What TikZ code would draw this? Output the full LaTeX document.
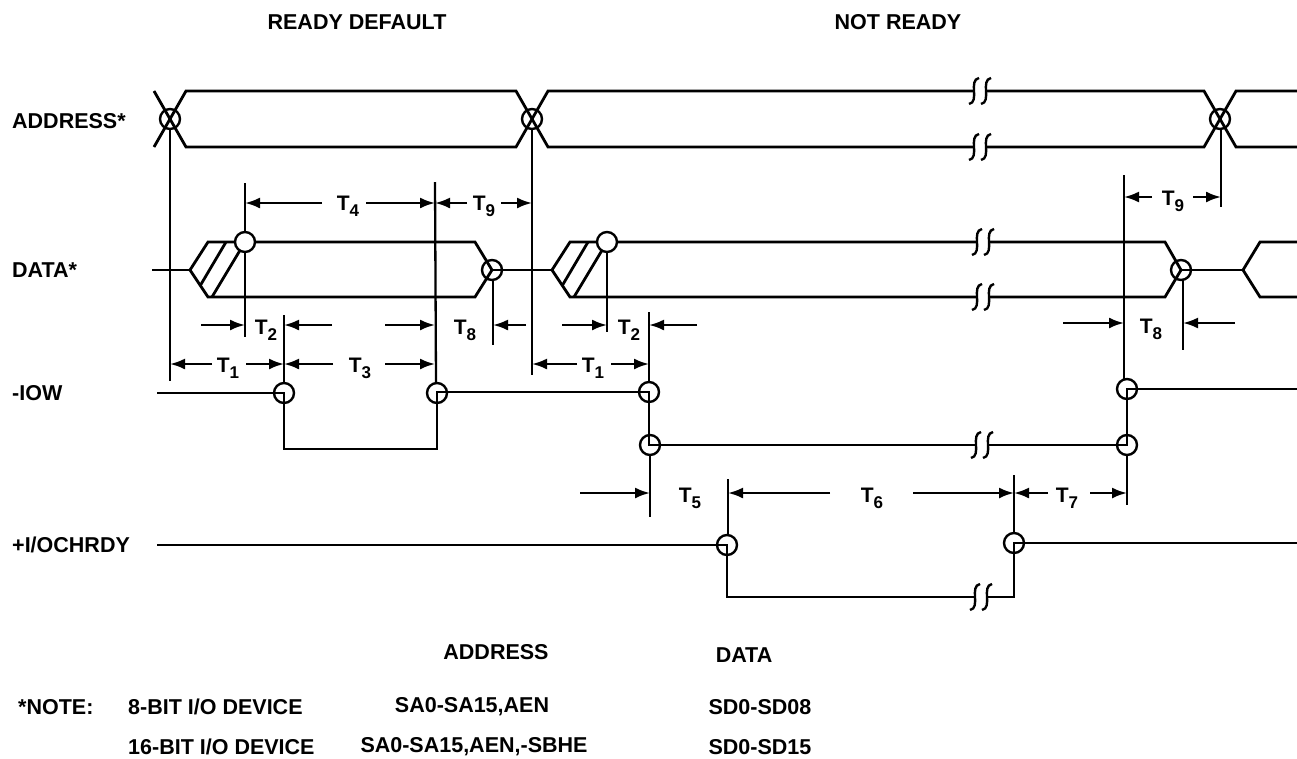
\documentclass[tikz,border=0pt]{standalone}
\usepackage{fontspec}
\setmainfont{Liberation Sans}
\usetikzlibrary{arrows.meta}
\newcommand{\brkS}[2]{\draw[brkline] (#1+5,#2-13) .. controls (#1-6,#2-11) and (#1+6,#2+11) .. (#1-5,#2+13);}
\newcommand{\brkP}[2]{\brkS{#1-6}{#2}\brkS{#1+6}{#2}}
\newcommand{\Tsub}[1]{T\raisebox{-0.55ex}{\fontsize{17}{17}\selectfont #1}}
\begin{document}
\begin{tikzpicture}[x=1pt,y=-1pt,
  sig/.style={line width=2.8pt, line join=miter},
  refl/.style={line width=2.3pt},
  dimarrow/.style={line width=2.3pt,-{Latex[length=15pt,width=11pt]}},
  ring/.style={line width=2.4pt},
  wring/.style={line width=2.4pt,fill=white},
  brkline/.style={line width=2.4pt},
  lab/.style={font=\fontsize{21.5}{24}\selectfont\bfseries, inner sep=0},
  tlab/.style={font=\fontsize{21}{22}\selectfont\bfseries, inner sep=0}]
\fill[white] (0,0) rectangle (1297,758);
\useasboundingbox (0,0) rectangle (1297,758);

% titles and row labels
\node[lab] (t1) at (357,22) {READY DEFAULT};
\node[lab] (t2) at (898,22) {NOT READY};
\node[lab,anchor=west] (la) at (12,121) {ADDRESS*};
\node[lab,anchor=west] (ld) at (12,270) {DATA*};
\node[lab,anchor=west] (li) at (12,393) {-IOW};
\node[lab,anchor=west] (lr) at (12,545) {+I/OCHRDY};

% ADDRESS*
\draw[sig] (154,147)--(186,91)--(516,91)--(548,147)--(974,147);
\draw[sig] (154,91)--(186,147)--(516,147)--(548,91)--(974,91);
\draw[sig] (986,91)--(1204,91)--(1236,147)--(1297,147);
\draw[sig] (986,147)--(1204,147)--(1236,91)--(1297,91);
\brkP{980}{91}\brkP{980}{147}
\draw[ring] (170,119) circle (10);
\draw[ring] (532,119) circle (10);
\draw[ring] (1220,119) circle (10);

% DATA*
\draw[sig] (152,270)--(190,270);
\draw[sig] (190,270)--(208,242)--(475,242)--(492,270)--(475,297)--(208,297)--cycle;
\draw[sig] (492,270)--(552,270);
\draw[sig] (226,242)--(200,286);
\draw[sig] (245,242)--(212,297);
\draw[sig] (552,270)--(570,242)--(977,242);
\draw[sig] (552,270)--(570,297)--(977,297);
\draw[sig] (588,242)--(562,286);
\draw[sig] (607,242)--(574,297);
\draw[sig] (989,242)--(1165,242)--(1181,270)--(1165,297)--(989,297);
\draw[sig] (1181,270)--(1243,270);
\draw[sig] (1297,242)--(1260,242)--(1243,270)--(1260,297)--(1297,297);
\brkP{983}{242}\brkP{983}{297}
\draw[wring] (245,242) circle (10);
\draw[wring] (607,242) circle (10);
\draw[ring] (492,270) circle (10);
\draw[ring] (1181,270) circle (10);

% -IOW
\draw[sig] (157,393)--(284,393)--(284,449)--(437,449)--(437,392)--(649,392)--(649,445)--(976,445);
\draw[sig] (988,445)--(1127,445)--(1127,389)--(1297,389);
\brkP{982}{445}
\draw[ring] (284,393) circle (10);
\draw[ring] (437,393) circle (10);
\draw[ring] (649,392) circle (10);
\draw[ring] (650,445) circle (10);
\draw[ring] (1127,445) circle (10);
\draw[ring] (1127,389) circle (10);

% +I/OCHRDY
\draw[sig] (157,545)--(727,545)--(727,597)--(975,597);
\draw[sig] (987,597)--(1014,597)--(1014,543)--(1297,543);
\brkP{981}{597}
\draw[ring] (727,545) circle (10);
\draw[ring] (1014,543) circle (10);

% reference verticals
\draw[refl] (170,129)--(170,381);
\draw[refl] (245,183)--(245,232);
\draw[refl] (245,252)--(245,337);
\draw[refl] (435,182)--(436,383);
\draw[refl] (532,129)--(532,375);
\draw[refl] (493,280)--(493,345);
\draw[refl] (284,315)--(284,383);
\draw[refl] (607,252)--(607,332);
\draw[refl] (649,312)--(649,382);
\draw[refl] (650,455)--(650,517);
\draw[refl] (728,479)--(728,535);
\draw[refl] (1014,475)--(1014,533);
\draw[refl] (1127,455)--(1127,505);
\draw[refl] (1124,175)--(1124,379);
\draw[refl] (1221,129)--(1221,207);
\draw[refl] (1183,280)--(1183,350);

% T4 / T9
\draw[dimarrow] (322,203)--(245,203);
\node[tlab] (T4) at (348,206) {\Tsub{4}};
\draw[dimarrow] (366,203)--(435,203);
\draw[dimarrow] (467,203)--(435,203);
\node[tlab] (T9a) at (484,206) {\Tsub{9}};
\draw[dimarrow] (501,203)--(532,203);
% T2 / T8 (first)
\draw[dimarrow] (201,325)--(245,325);
\node[tlab] (T2a) at (266,330) {\Tsub{2}};
\draw[dimarrow] (332,325)--(284,325);
\draw[dimarrow] (385,325)--(435,325);
\node[tlab] (T8a) at (465,330) {\Tsub{8}};
\draw[dimarrow] (526,325)--(493,325);
% T1 / T3
\draw[dimarrow] (212,364)--(170,364);
\node[tlab] (T1a) at (228,368) {\Tsub{1}};
\draw[dimarrow] (246,364)--(284,364);
\draw[dimarrow] (333,364)--(284,364);
\node[tlab] (T3) at (360,368) {\Tsub{3}};
\draw[dimarrow] (385,364)--(435,364);
% T2 / T1 second
\draw[dimarrow] (562,325)--(607,325);
\node[tlab] (T2b) at (629,330) {\Tsub{2}};
\draw[dimarrow] (697,325)--(649,325);
\draw[dimarrow] (577,364)--(532,364);
\node[tlab] (T1b) at (593,368) {\Tsub{1}};
\draw[dimarrow] (611,364)--(649,364);
% T5 T6 T7
\draw[dimarrow] (580,493)--(650,493);
\node[tlab] (T5) at (690,498) {\Tsub{5}};
\draw[dimarrow] (830,493)--(728,493);
\node[tlab] (T6) at (872,498) {\Tsub{6}};
\draw[dimarrow] (913,493)--(1014,493);
\draw[dimarrow] (1048,493)--(1014,493);
\node[tlab] (T7) at (1067,498) {\Tsub{7}};
\draw[dimarrow] (1090,493)--(1127,493);
% T9 / T8 second
\draw[dimarrow] (1152,197)--(1124,197);
\node[tlab] (T9b) at (1173,201) {\Tsub{9}};
\draw[dimarrow] (1193,197)--(1221,197);
\draw[dimarrow] (1063,323)--(1124,323);
\node[tlab] (T8b) at (1151,329) {\Tsub{8}};
\draw[dimarrow] (1235,323)--(1183,323);

% notes
\node[lab] (hA) at (496,652) {ADDRESS};
\node[lab] (hD) at (744,655) {DATA};
\node[lab,anchor=west] (n0) at (18,707) {*NOTE:};
\node[lab,anchor=west] (n1) at (128,707) {8-BIT I/O DEVICE};
\node[lab,anchor=west] (n2) at (128,747) {16-BIT I/O DEVICE};
\node[lab] (a1) at (472,707) {SA0-SA15,AEN};
\node[lab] (a2) at (474,747) {SA0-SA15,AEN,-SBHE};
\node[lab] (d1) at (760,707) {SD0-SD08};
\node[lab] (d2) at (760,747) {SD0-SD15};
\end{tikzpicture}
\end{document}
